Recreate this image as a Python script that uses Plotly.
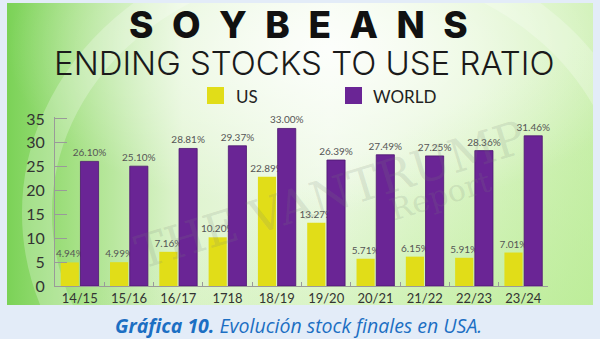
import base64
import plotly.graph_objects as go

categories = ["14/15", "15/16", "16/17", "1718", "18/19", "19/20", "20/21", "21/22", "22/23", "23/24"]
us_values = [4.94, 4.99, 7.16, 10.20, 22.89, 13.27, 5.71, 6.15, 5.91, 7.01]
world_values = [26.10, 25.10, 28.81, 29.37, 33.00, 26.39, 27.49, 27.25, 28.36, 31.46]
y_ticks = [0, 5, 10, 15, 20, 25, 30, 35]

US_COLOR = "#e1dd18"
WORLD_COLOR = "#6a2595"

W, H = 600, 339
L, R, T, B = 55, 548, 117, 286  # plot area in px


def xp(px):
    return (px - L) / (R - L)


def yp(py):
    return (B - py) / (B - T)


svg = f'''<svg xmlns="http://www.w3.org/2000/svg" width="586" height="302" viewBox="0 0 586 302">
<defs>
<linearGradient id="lg" x1="0" y1="0" x2="1" y2="0">
<stop offset="0" stop-color="#7bd257"/>
<stop offset="0.12" stop-color="#a6e186"/>
<stop offset="0.3" stop-color="#dff4cf"/>
<stop offset="0.55" stop-color="#eef9e6"/>
<stop offset="0.8" stop-color="#dff5cd"/>
<stop offset="1" stop-color="#cdf0b2"/>
</linearGradient>
<radialGradient id="rg" cx="0.55" cy="0.15" r="0.55">
<stop offset="0" stop-color="#ffffff" stop-opacity="0.85"/>
<stop offset="0.6" stop-color="#ffffff" stop-opacity="0.35"/>
<stop offset="1" stop-color="#ffffff" stop-opacity="0"/>
</radialGradient>
<linearGradient id="br" x1="0" y1="0" x2="1" y2="1">
<stop offset="0.55" stop-color="#b8ec92" stop-opacity="0"/>
<stop offset="1" stop-color="#b8ec92" stop-opacity="0.75"/>
</linearGradient>
</defs>
<rect width="586" height="302" fill="url(#lg)"/>
<rect width="586" height="302" fill="url(#br)"/>
<rect width="586" height="302" fill="url(#rg)"/>
<ellipse cx="330" cy="210" rx="300" ry="260" fill="none" stroke="#ffffff" stroke-opacity="0.25" stroke-width="30"/>
</svg>'''
svg_uri = "data:image/svg+xml;base64," + base64.b64encode(svg.encode()).decode()

fig = go.Figure()
fig.add_trace(go.Bar(
    x=categories, y=us_values, name="US", marker=dict(color=US_COLOR, line=dict(width=0)),
    texttemplate="%{y:.2f}%", textposition="outside", constraintext="none",
    textfont=dict(size=10, color="#555555", family="Lato"), cliponaxis=False,
))
fig.add_trace(go.Bar(
    x=categories, y=world_values, name="WORLD",
    marker=dict(color=WORLD_COLOR, line=dict(width=0.8, color="#4d1670")),
    texttemplate="%{y:.2f}%", textposition="outside", constraintext="none",
    textfont=dict(size=10, color="#555555", family="Lato"), cliponaxis=False,
))

fig.update_layout(
    width=W, height=H,
    margin=dict(l=L, r=W - R, t=T, b=H - B, pad=0),
    paper_bgcolor="#e3ecf8",
    plot_bgcolor="rgba(0,0,0,0)",
    showlegend=False,
    barmode="group", bargap=0.2, bargroupgap=0.08,
    images=[dict(
        source=svg_uri, xref="paper", yref="paper",
        x=xp(7), y=yp(3), sizex=xp(593) - xp(7), sizey=yp(3) - yp(305),
        xanchor="left", yanchor="top", sizing="stretch", layer="below",
    )],
    xaxis=dict(
        type="category", showgrid=False, showline=True, linecolor="#9a9a9a", linewidth=1,
        ticks="inside", ticklen=4, tickcolor="#9a9a9a", tickson="boundaries",
        tickfont=dict(family="Lato", size=13, color="#333333"),
        range=[-0.5, 9.5],
    ),
    yaxis=dict(
        range=[0, 35.4], tickvals=y_ticks, showgrid=False, zeroline=False,
        showline=True, linecolor="#9a9a9a", linewidth=1,
        ticks="inside", ticklen=12, tickcolor="#9a9a9a",
        tickfont=dict(family="Lato", size=16, color="#333333"),
        ticklabelstandoff=6,
    ),
)

ann = []
ann.append(dict(text="\u2002".join("SOYBEANS"), x=xp(298), y=yp(24), xref="paper", yref="paper",
                showarrow=False, xanchor="center", yanchor="middle",
                font=dict(family="Inter", size=37, color="#111111", weight=800)))
ann.append(dict(text="ENDING STOCKS TO USE RATIO", x=xp(304), y=yp(63), xref="paper", yref="paper",
                showarrow=False, xanchor="center", yanchor="middle",
                font=dict(family="Inter", size=33, color="#1a1a1a", weight=300)))
ann.append(dict(text="US", x=xp(234), y=yp(96), xref="paper", yref="paper",
                showarrow=False, xanchor="left", yanchor="middle",
                font=dict(family="Lato", size=17, color="#222222")))
ann.append(dict(text="WORLD", x=xp(371), y=yp(96), xref="paper", yref="paper",
                showarrow=False, xanchor="left", yanchor="middle",
                font=dict(family="Lato", size=17, color="#222222")))
ann.append(dict(text="<b><i>Gráfica 10.</i></b><i> Evolución stock finales en USA.</i>",
                x=xp(298), y=yp(325), xref="paper", yref="paper",
                showarrow=False, xanchor="center", yanchor="middle",
                font=dict(family="Open Sans", size=19.5, color="#1c6fc3")))
# faint watermark
ann.append(dict(text="THE VANTRUMP", x=xp(330), y=yp(195), xref="paper", yref="paper",
                showarrow=False, xanchor="center", yanchor="middle", textangle=-17,
                font=dict(family="DejaVu Serif", size=46, color="rgba(120,130,120,0.18)")))
ann.append(dict(text="Report", x=xp(440), y=yp(195), xref="paper", yref="paper",
                showarrow=False, xanchor="center", yanchor="middle", textangle=-17,
                font=dict(family="DejaVu Serif", size=30, color="rgba(120,130,120,0.18)")))
fig.update_layout(annotations=ann)

fig.add_shape(type="rect", xref="paper", yref="paper", x0=xp(207), x1=xp(224), y0=yp(104), y1=yp(87),
              fillcolor=US_COLOR, line=dict(width=0))
fig.add_shape(type="rect", xref="paper", yref="paper", x0=xp(345), x1=xp(362), y0=yp(104), y1=yp(87),
              fillcolor=WORLD_COLOR, line=dict(width=0))

fig.write_html("out.html")
